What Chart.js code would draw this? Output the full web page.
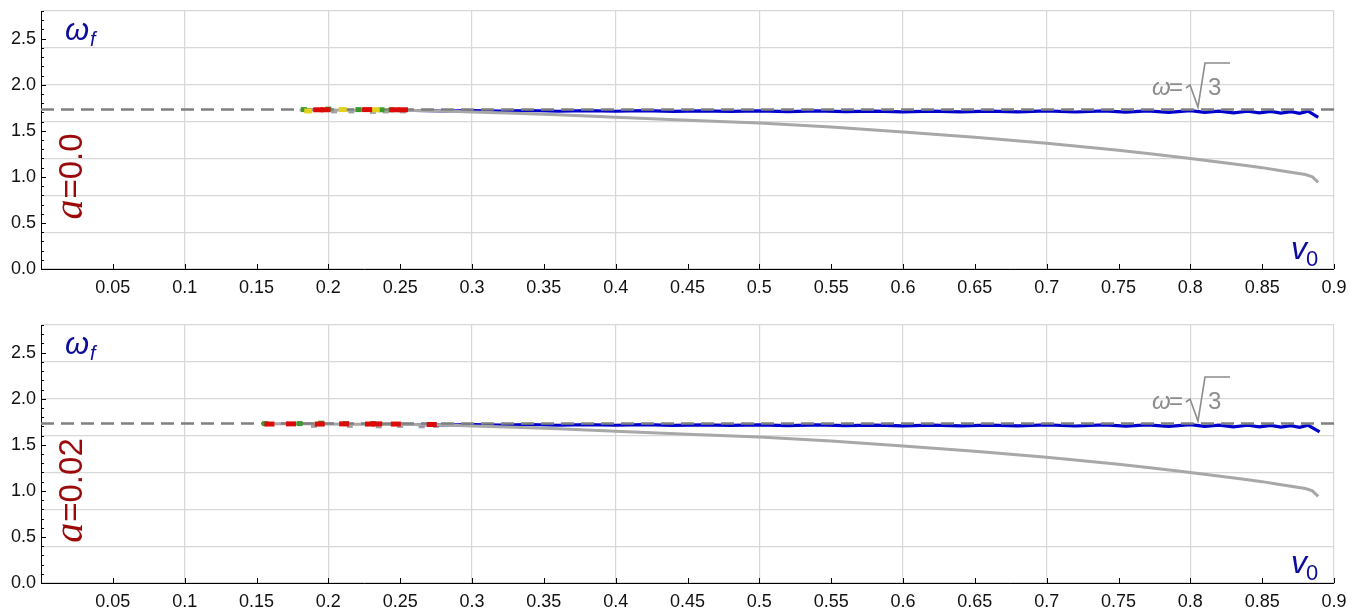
<!DOCTYPE html>
<html>
<head>
<meta charset="utf-8">
<script src="https://cdn.jsdelivr.net/npm/chart.js@4.4.1/dist/chart.umd.min.js"></script>
<style>
html,body{margin:0;padding:0;background:#fff;overflow:hidden;width:1364px;height:609px}
canvas{position:absolute;left:0}
#top{top:0}
#bottom{top:314px}
</style>
</head>
<body>
<canvas id="top" width="1364" height="314"></canvas>
<canvas id="bottom" width="1364" height="314"></canvas>
<script>
// reference level omega = sqrt(3)
const refLevel = 1.732;
const xMin = 0, xMax = 0.9, yMin = 0, yMax = 2.8;

// ---- panel a=0.0 ----
const grayV0 = [0.18,0.20,0.22,0.24,0.26,0.28,0.30,0.33,0.36,0.40,0.45,0.50,0.55,0.60,0.65,0.70,0.75,0.775,0.80,0.825,0.84,0.85,0.86,0.87,0.88,0.885,0.889];
const grayW0 = [1.725,1.725,1.722,1.72,1.72,1.715,1.705,1.69,1.675,1.648,1.615,1.585,1.54,1.488,1.43,1.365,1.29,1.245,1.198,1.15,1.12,1.10,1.075,1.05,1.025,1.0,0.94];
const blueV0 = [0.26,0.28,0.30,0.32,0.34,0.36,0.38,0.40,0.42,0.44,0.46,0.48,0.50,0.52,0.54,0.56,0.58,0.60,0.62,0.64,0.66,0.68,0.70,0.72,0.74,
                0.755,0.77,0.785,0.80,0.81,0.82,0.83,0.84,0.848,0.856,0.863,0.87,0.876,0.882,0.889];
const blueW0 = [1.72,1.715,1.72,1.715,1.72,1.712,1.718,1.712,1.718,1.71,1.716,1.71,1.716,1.708,1.715,1.708,1.714,1.706,1.714,1.706,1.714,1.705,1.715,1.704,1.716,
                1.702,1.716,1.70,1.718,1.70,1.714,1.695,1.712,1.694,1.71,1.692,1.708,1.69,1.712,1.645];
const red0    = [[0.193,1.728],[0.198,1.728],[0.227,1.73],[0.246,1.728],[0.252,1.728]];
const green0  = [[0.183,1.73],[0.20,1.735],[0.221,1.73],[0.237,1.728],[0.244,1.728]];
const yellow0 = [[0.186,1.715],[0.21,1.73],[0.233,1.728]];
const dots0   = [[0.204,1.705],[0.216,1.705],[0.231,1.70],[0.24,1.705],[0.252,1.705]];

// ---- panel a=0.02 ----
const grayV2 = [0.155,0.18,0.20,0.22,0.24,0.26,0.28,0.30,0.33,0.36,0.40,0.45,0.50,0.55,0.60,0.65,0.70,0.75,0.775,0.80,0.825,0.84,0.85,0.86,0.87,0.88,0.885,0.889];
const grayW2 = [1.728,1.727,1.725,1.722,1.72,1.72,1.715,1.705,1.69,1.675,1.648,1.615,1.585,1.54,1.488,1.43,1.365,1.29,1.245,1.198,1.15,1.12,1.10,1.075,1.05,1.025,1.0,0.94];
const blueV2 = [0.245,0.26,0.28,0.30,0.32,0.34,0.36,0.38,0.40,0.42,0.44,0.46,0.48,0.50,0.52,0.54,0.56,0.58,0.60,0.62,0.64,0.66,0.68,0.70,0.72,0.74,
                0.755,0.77,0.785,0.80,0.81,0.82,0.83,0.84,0.848,0.856,0.863,0.87,0.876,0.882,0.89];
const blueW2 = [1.722,1.72,1.715,1.72,1.715,1.72,1.712,1.718,1.712,1.718,1.71,1.716,1.71,1.716,1.708,1.715,1.708,1.714,1.706,1.714,1.706,1.714,1.705,1.715,1.704,1.716,
                1.702,1.716,1.70,1.718,1.70,1.714,1.695,1.712,1.694,1.71,1.692,1.708,1.69,1.712,1.64];
const red2    = [[0.159,1.725],[0.174,1.727],[0.194,1.725],[0.211,1.727],[0.229,1.725],[0.234,1.727],[0.247,1.725],[0.272,1.72]];
const green2  = [[0.156,1.73],[0.18,1.73],[0.195,1.735],[0.212,1.73],[0.231,1.73]];
const yellow2 = [];
const dots2   = [[0.19,1.70],[0.215,1.70],[0.235,1.695],[0.25,1.70],[0.265,1.695],[0.275,1.70]];

const blue = '#0000cd';
const labelBlue = '#0d0d9c';
const labelRed = '#9b0a0a';
const gridGray = '#d8d8d8';
const font = '"Liberation Sans", Arial, sans-serif';

function pts(xs, ys) { return xs.map((x, i) => ({x: x, y: ys[i]})); }
function pairs(list) { return list.map(p => ({x: p[0], y: p[1]})); }
function near(v, step) { const q = v / step; return Math.abs(q - Math.round(q)) < 1e-6; }

// inward ticks like the original frame
const tickMarks = {
  id: 'tickMarks',
  afterDraw(chart) {
    const ctx = chart.ctx, xs = chart.scales.x, ys = chart.scales.y, a = chart.chartArea;
    ctx.save();
    ctx.strokeStyle = '#000';
    ctx.lineWidth = 1;
    ys.ticks.forEach(t => {
      const y = Math.round(ys.getPixelForValue(t.value)) + 0.5;
      const len = near(t.value, 0.5) ? 5 : 3;
      ctx.beginPath(); ctx.moveTo(a.left, y); ctx.lineTo(a.left + len, y); ctx.stroke();
    });
    xs.ticks.forEach(t => {
      if (t.value === 0) return;
      const x = Math.round(xs.getPixelForValue(t.value)) + 0.5;
      ctx.beginPath(); ctx.moveTo(x, a.bottom); ctx.lineTo(x, a.bottom - 5); ctx.stroke();
    });
    ctx.restore();
  }
};

function labelPlugin(aText) {
  return {
    id: 'panelLabels',
    afterDraw(chart) {
      const ctx = chart.ctx;
      ctx.save();
      ctx.textBaseline = 'alphabetic';
      ctx.textAlign = 'left';
      // omega_f
      ctx.fillStyle = labelBlue;
      ctx.font = 'italic 31px ' + font;
      ctx.fillText('ω', 65, 40);
      ctx.font = 'italic 20px ' + font;
      ctx.fillText('f', 90, 46);
      // v_0
      ctx.font = 'italic 32px ' + font;
      ctx.fillText('v', 1291, 259);
      ctx.font = '22px ' + font;
      ctx.fillText('0', 1306, 266);
      // omega = sqrt(3)
      ctx.fillStyle = '#8c8c8c';
      ctx.strokeStyle = '#8c8c8c';
      ctx.font = 'italic 24px ' + font;
      ctx.fillText('ω', 1152, 95);
      ctx.font = '24px ' + font;
      ctx.fillText('=', 1169, 95);
      ctx.fillText('3', 1208, 95);
      ctx.lineWidth = 1.6;
      ctx.beginPath();
      ctx.moveTo(1186, 88); ctx.lineTo(1190, 85); ctx.lineTo(1198, 107);
      ctx.lineTo(1205, 63); ctx.lineTo(1230, 63);
      ctx.stroke();
      // a = ...
      ctx.translate(82, 177);
      ctx.rotate(-Math.PI / 2);
      ctx.fillStyle = labelRed;
      const f1 = 'italic 40px "Liberation Serif", serif';
      const f2 = '33px ' + font;
      ctx.font = f1; const w1 = ctx.measureText('a').width;
      ctx.font = f2; const w2 = ctx.measureText(aText).width;
      const x0 = -(w1 + w2) / 2;
      ctx.font = f1; ctx.fillText('a', x0, 0);
      ctx.font = f2; ctx.fillText(aText, x0 + w1 + 1, 0);
      ctx.restore();
    }
  };
}

function bars(list, color, r, w) {
  return {
    data: pairs(list), showLine: false,
    pointStyle: 'line', pointRadius: r, pointBorderWidth: w,
    borderColor: color, backgroundColor: color
  };
}

function makePanel(id, s, aText) {
  const ctx = document.getElementById(id).getContext('2d');
  return new Chart(ctx, {
    type: 'scatter',
    data: {
      datasets: [
        bars(s.red, '#dd0a0a', 5, 5),
        bars(s.yellow, '#e2d21a', 4, 5),
        bars(s.green, '#3a9a2a', 3, 5),
        { data: [{x: xMin, y: refLevel}, {x: xMax, y: refLevel}], showLine: true, borderColor: '#808080',
          borderWidth: 2.5, borderDash: [13, 7], pointRadius: 0 },
        { data: pts(s.grayV, s.grayW), showLine: true, borderColor: '#a8a8a8', borderWidth: 3, pointRadius: 0 },
        { data: pts(s.blueV, s.blueW), showLine: true, borderColor: blue, borderWidth: 3.2, pointRadius: 0 },
        bars(s.dots, '#a0a0a0', 3, 3)
      ]
    },
    plugins: [tickMarks, labelPlugin(aText)],
    options: {
      responsive: false,
      animation: false,
      devicePixelRatio: 1,
      events: [],
      layout: { padding: { top: 11, right: 30, left: 0, bottom: 0 } },
      plugins: { legend: { display: false }, tooltip: { enabled: false } },
      scales: {
        x: {
          type: 'linear', min: xMin, max: xMax,
          afterFit: (sc) => { sc.height = 45; },
          border: { color: '#000', width: 1 },
          grid: { color: (c) => near(c.tick.value, 0.1) && c.tick.value > 0 ? gridGray : 'rgba(0,0,0,0)', drawTicks: false, lineWidth: 1.2 },
          ticks: { stepSize: 0.05, autoSkip: false, maxRotation: 0, padding: 8, color: '#111',
                   font: { family: font, size: 18 },
                   callback: (v) => v === 0 ? '' : String(Math.round(v * 100) / 100) }
        },
        y: {
          min: yMin, max: yMax,
          afterFit: (sc) => { sc.width = 41; sc.paddingTop = 0; sc.paddingBottom = 0; },
          border: { color: '#000', width: 1 },
          grid: { color: (c) => near(c.tick.value, 0.4) ? gridGray : 'rgba(0,0,0,0)', drawTicks: false, lineWidth: 1.2 },
          ticks: { stepSize: 0.1, autoSkip: false, padding: 5, color: '#111',
                   font: { family: font, size: 18 },
                   callback: (v) => near(v, 0.5) ? v.toFixed(1) : '' }
        }
      }
    }
  });
}

makePanel('top', { grayV: grayV0, grayW: grayW0, blueV: blueV0, blueW: blueW0,
                   red: red0, green: green0, yellow: yellow0, dots: dots0 }, '=0.0');
makePanel('bottom', { grayV: grayV2, grayW: grayW2, blueV: blueV2, blueW: blueW2,
                      red: red2, green: green2, yellow: yellow2, dots: dots2 }, '=0.02');
</script>
</body>
</html>
